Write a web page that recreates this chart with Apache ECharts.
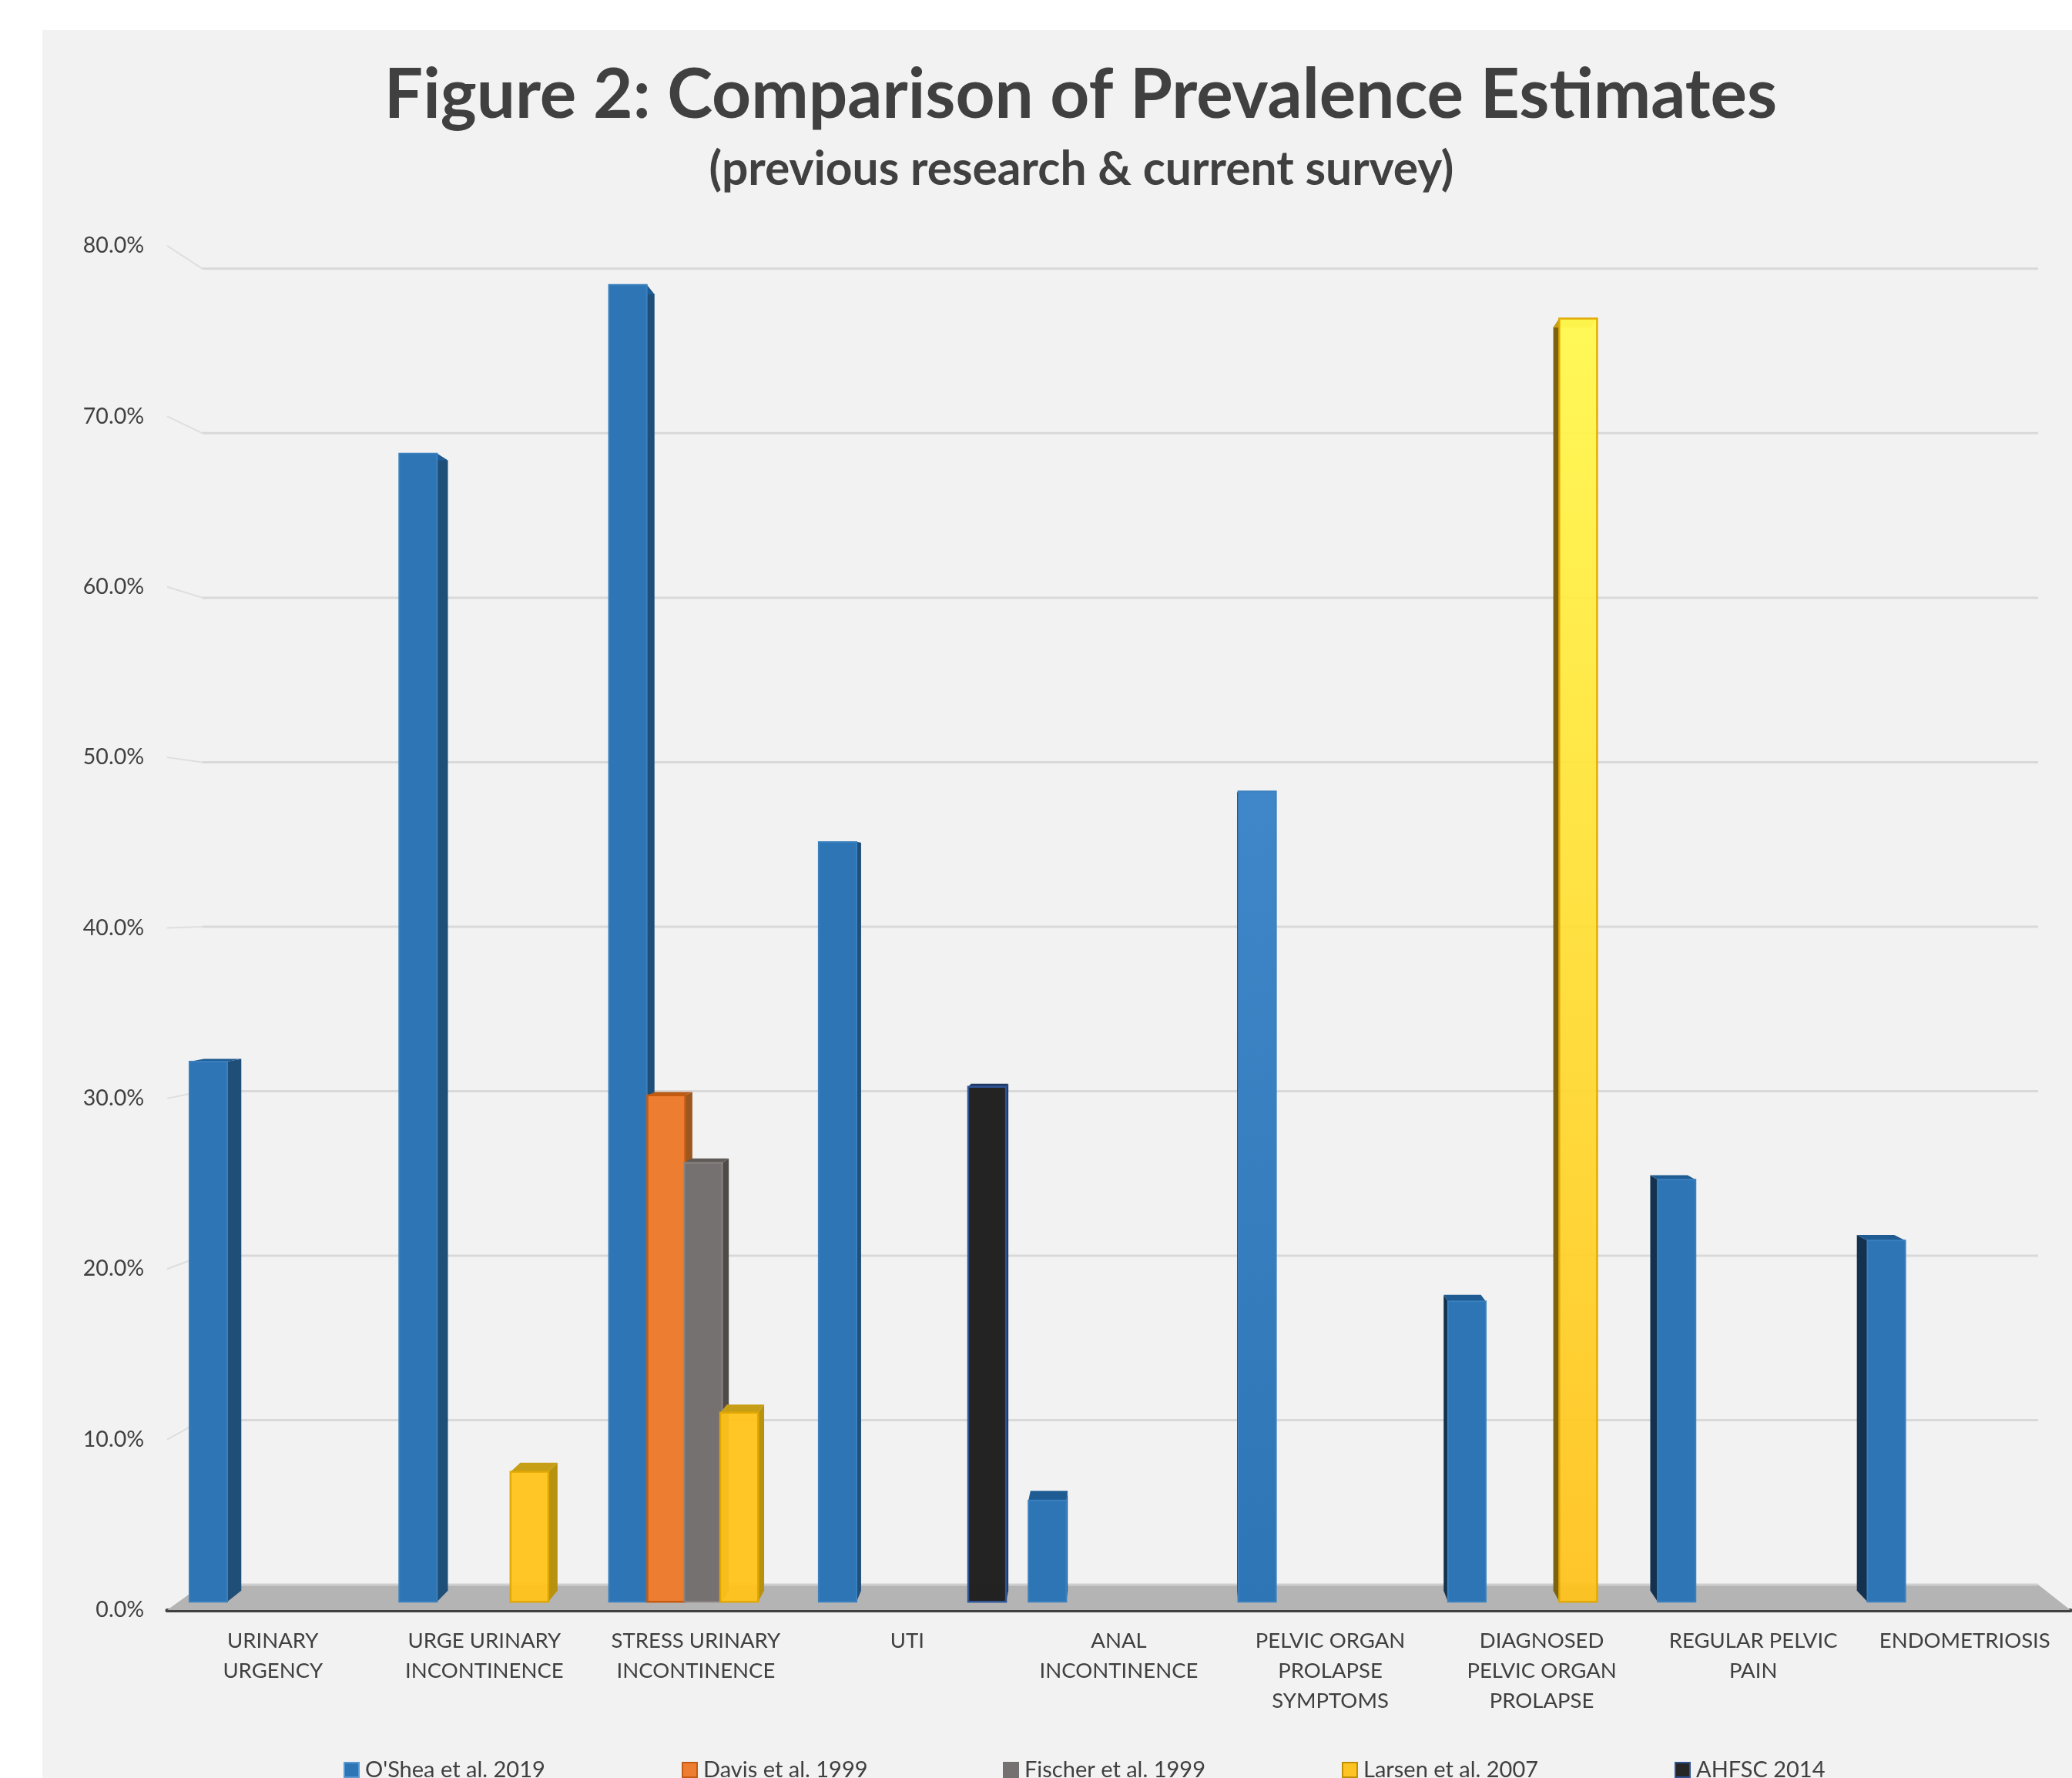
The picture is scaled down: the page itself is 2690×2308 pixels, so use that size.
<!DOCTYPE html>
<html>
<head>
<meta charset="utf-8">
<style>
html,body{margin:0;padding:0;background:#fff;width:2690px;height:2308px;overflow:hidden}
#panel{position:absolute;left:55px;top:39px;right:0;bottom:0;background:#f2f2f2}
#chart{position:absolute;left:0;top:0;width:2690px;height:2308px}
</style>
<script src="https://cdn.jsdelivr.net/npm/echarts@6/dist/echarts.min.js"></script>
</head>
<body>
<div id="panel"></div>
<div id="chart"></div>
<script>
const titleText = "Figure 2: Comparison of Prevalence Estimates";
const subtitleText = "(previous research & current survey)";
const categories = ["URINARY\nURGENCY","URGE URINARY\nINCONTINENCE","STRESS URINARY\nINCONTINENCE","UTI","ANAL\nINCONTINENCE","PELVIC ORGAN\nPROLAPSE\nSYMPTOMS","DIAGNOSED\nPELVIC ORGAN\nPROLAPSE","REGULAR PELVIC\nPAIN","ENDOMETRIOSIS"];
const yTicks = [0,10,20,30,40,50,60,70,80];
const oShea  = [32,68,78,45,6,48,17.8,25,21.4];
const davis  = [null,null,30,null,null,null,null,null,null];
const fischer= [null,null,26,null,null,null,null,null,null];
const larsen = [null,7.7,11.2,null,null,null,76,null,null];
const ahfsc  = [null,null,null,30.5,null,null,null,null,null];

const FONT = "Lato";
const TEXT = "#404040";
// perspective model of the 3-D chart box
const VP = {x:1507, y:1160};
const SHRINK = 0.0355;
const BAR_X = [0.23, 0.65];
const BAR_Y = [0.28, 0.72];
const BAR_W = 49.5;
const BAR_LIFT = 1.5;
function proj(x, y, dx, dy){
  return [VP.x + (1 - dx*SHRINK)*(x - VP.x), VP.y + (1 - dy*SHRINK)*(y - VP.y)];
}
const LG = (a,b)=>new echarts.graphic.LinearGradient(0,0,0,1,[{offset:0,color:a},{offset:1,color:b}]);

const looks = [
 {name:"O'Shea et al. 2019", vals:oShea,  off:-118.7, fill:"#2E75B6", line:"#3B80BE", sideR:"#1F4E79", sideL:"#14324F", top:"#1F5C93", legend:"#2E75B6", legendB:"#5B9BD5", sw:2},
 {name:"Davis et al. 1999",  vals:davis,  off:-68.4,  fill:"#ED7D31", line:"#C55A11", sideR:"#9C561F", sideL:"#9C561F", top:"#B85C16", legend:"#ED7D31", legendB:"#C55A11", sw:2.5},
 {name:"Fischer et al. 1999",vals:fischer,off:-20,    fill:"#767171", line:"#8A8582", sideR:"#4F4B48", sideL:"#4F4B48", top:"#5F5B58", legend:"#767171", legendB:"#767171", sw:2},
 {name:"Larsen et al. 2007", vals:larsen, off:27,     fill:"#FFC31A", line:"#E0A800", sideR:"#B8920F", sideL:"#7D6310", top:"#C79F16", legend:"#FFC423", legendB:"#BF9000", sw:2.5, alpha:0.95},
 {name:"AHFSC 2014",         vals:ahfsc,  off:77,     fill:"#1F1F1F", line:"#2F5597", sideR:"#1F3864", sideL:"#1F3864", top:"#1F3864", legend:"#262626", legendB:"#2F5597", sw:2.5, alpha:0.98}
];
const special = {"0-5":()=>LG("#3F87C8","#2E75B6"), "3-6":()=>LG("#FFF84E","#FFC21E")};
const legendLeft = [441,880,1297,1737,2169];

function barRender(sIdx){
  const L = looks[sIdx];
  return function(params, api){
    const i = api.value(0), v = api.value(1);
    const base = api.coord([i,0]), tip = api.coord([i,v]);
    const x0 = tip[0] + L.off, x1 = x0 + BAR_W;
    const lift = p=>[p[0],p[1]-BAR_LIFT];
    const fb = (x,y)=>lift(proj(x,y,BAR_X[0],BAR_Y[0]));
    const bb = (x,y)=>lift(proj(x,y,BAR_X[1],BAR_Y[1]));
    const rightSide = (x0 + x1)/2 < VP.x;
    const edge = rightSide ? x1 : x0;
    const side = [fb(edge,base[1]),bb(edge,base[1]),bb(edge,tip[1]),fb(edge,tip[1])];
    const top = [fb(x0,tip[1]),fb(x1,tip[1]),bb(x1,tip[1]),bb(x0,tip[1])];
    const front = [fb(x0,base[1]),fb(x1,base[1]),fb(x1,tip[1]),fb(x0,tip[1])];
    const key = sIdx+"-"+i;
    const fill = special[key] ? special[key]() : L.fill;
    return {type:"group",children:[
      {type:"polygon",shape:{points:side},style:{fill:rightSide?L.sideR:L.sideL}},
      {type:"polygon",shape:{points:top},style:{fill:L.top}},
      {type:"polygon",shape:{points:front},style:{fill:fill,stroke:L.line,lineWidth:L.sw,opacity:L.alpha||1}}
    ]};
  };
}

const wallSeries = {
  type:"custom",silent:true,clip:false,z:1,legendHoverLink:false,
  data:yTicks.map(t=>[0,t]),encode:{x:0,y:1},
  renderItem(params,api){
    const cs = params.coordSys, y = api.coord([0,api.value(1)])[1];
    if(api.value(1)===0) return null;
    const l = cs.x, r = cs.x+cs.width;
    return {type:"group",children:[
      {type:"polyline",shape:{points:[[l,y],proj(l,y,1,1)]},style:{stroke:"#DEDEDE",lineWidth:2,fill:"none"}},
      {type:"polyline",shape:{points:[proj(l,y,1,1),proj(r,y,1,1)]},style:{stroke:"#D9D9D9",lineWidth:3,fill:"none"}}
    ]};
  }
};
const floorSeries = {
  type:"custom",silent:true,clip:false,z:1,
  data:[[0,0]],encode:{x:0,y:1},
  renderItem(params,api){
    const cs = params.coordSys, y = api.coord([0,0])[1];
    const l = cs.x, r = cs.x+cs.width;
    return {type:"group",children:[
      {type:"polygon",shape:{points:[[l,y],[r,y],proj(r,y,1,1),proj(l,y,1,1)]},style:{fill:"#B4B4B4"}},
      {type:"line",shape:{x1:proj(l,y,1,1)[0],y1:proj(l,y,1,1)[1],x2:proj(r,y,1,1)[0],y2:proj(r,y,1,1)[1]},style:{stroke:"#CFCFCF",lineWidth:3}}
    ]};
  }
};
const barSeries = looks.map((L,s)=>({
  name:L.name,type:"custom",clip:false,z:3+s,
  itemStyle:{color:L.legend},
  data:L.vals.map((v,i)=>v==null?null:[i,v]).filter(Boolean),
  encode:{x:0,y:1},
  renderItem:barRender(s)
}));

const chart = echarts.init(document.getElementById("chart"),null,{renderer:"canvas",width:2690,height:2308});
chart.setOption({
  backgroundColor:"transparent",
  animation:false,
  title:[
    {text:titleText,left:1398,top:75,textAlign:"center",textStyle:{fontFamily:FONT,fontWeight:"bold",fontSize:89,color:TEXT}},
    {text:subtitleText,left:1399,top:185,textAlign:"center",textStyle:{fontFamily:FONT,fontWeight:"bold",fontSize:60.5,color:TEXT}}
  ],
  grid:{left:217,right:2,top:319,bottom:218,containLabel:false},
  xAxis:{type:"category",data:categories,
    axisLine:{lineStyle:{color:"#404040",width:5}},axisTick:{show:false},splitLine:{show:false},
    axisLabel:{fontFamily:FONT,fontSize:27.5,color:TEXT,lineHeight:39,margin:21,interval:0,verticalAlign:"top"}},
  yAxis:{type:"value",min:0,max:80,interval:10,
    axisLine:{show:false},axisTick:{show:false},splitLine:{show:false},
    axisLabel:{fontFamily:FONT,fontSize:28.5,color:TEXT,margin:30,formatter:v=>v.toFixed(1)+"%"}},
  legend:looks.map((L,k)=>({
    left:legendLeft[k],top:2278,itemWidth:19,itemHeight:19,selectedMode:false,
    textStyle:{fontFamily:FONT,fontSize:29,color:TEXT,padding:[0,0,0,3]},
    data:[{name:L.name,icon:"rect",itemStyle:{color:L.legend,borderColor:L.legendB,borderWidth:2}}]
  })),
  series:[wallSeries,floorSeries,...barSeries]
});
</script>
</body>
</html>
